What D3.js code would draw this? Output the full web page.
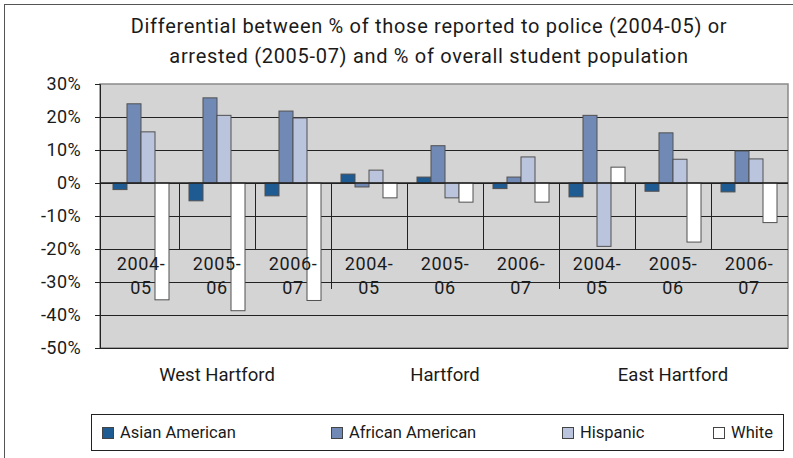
<!DOCTYPE html>
<html>
<head>
<meta charset="utf-8">
<script src="https://cdn.jsdelivr.net/npm/d3@7"></script>
<style>
  body { margin: 0; background: #fff; }
  text { font-family: Roboto, 'Noto Sans', sans-serif; fill: #1a1a1a; }
</style>
</head>
<body>
<div class="canvas"></div>
<script>
'use strict';

const cities = ['West Hartford', 'Hartford', 'East Hartford'];
const years = ['2004-05', '2005-06', '2006-07'];
const series = ['Asian American', 'African American', 'Hispanic', 'White'];

// one value per city/year, in city order
const asian = [-2, -5.4, -3.9, 2.7, 1.8, -1.7, -4.2, -2.5, -2.7];
const african = [24, 25.8, 21.8, -1.2, 11.3, 1.8, 20.5, 15.2, 9.7];
const hispanic = [15.5, 20.5, 19.7, 3.9, -4.5, 7.9, -19.2, 7.2, 7.3];
const white = [-35.4, -38.7, -35.6, -4.5, -5.8, -5.8, 4.8, -17.9, -12];

const yTicks = [-50, -40, -30, -20, -10, 0, 10, 20, 30];
const colors = ['#1f5b93', '#7089b5', '#bac4dc', '#ffffff'];

const values = [asian, african, hispanic, white];
const cats = [];
cities.forEach(c => years.forEach(y => cats.push({ city: c, year: y, key: c + '|' + y })));
const rows = cats.map((c, i) => ({ ...c, vals: series.map((s, j) => ({ s, v: values[j][i] })) }));

const width = 793;
const height = 458;

const svg = d3
  .select('.canvas')
  .append('svg')
  .attr('width', width)
  .attr('height', height);

// outer frame (right/bottom run off the picture)
svg.append('rect')
  .attr('x', 4.5).attr('y', 4.5)
  .attr('width', width + 10).attr('height', height + 10)
  .attr('fill', '#fff')
  .attr('stroke', '#555');

// title
const title = svg.append('text')
  .attr('text-anchor', 'middle')
  .style('font-size', '20px')
  .style('letter-spacing', '0.7px');
title.append('tspan').attr('x', 429).attr('y', 33)
  .text('Differential between % of those reported to police (2004-05) or');
title.append('tspan').attr('x', 429).attr('y', 63)
  .text('arrested (2005-07) and % of overall student population');

const plot = { left: 100, right: 788, top: 84, bottom: 348 };

const y = d3.scaleLinear().domain([-50, 30]).range([plot.bottom, plot.top]);
const x0 = d3.scaleBand().domain(cats.map(c => c.key)).range([103, 787]);
const x1 = d3.scaleBand().domain(series).range([0, x0.bandwidth()]).paddingOuter(0.714);
const color = d3.scaleOrdinal().domain(series).range(colors);

svg.append('rect')
  .attr('x', plot.left).attr('y', plot.top)
  .attr('width', plot.right - plot.left).attr('height', plot.bottom - plot.top)
  .attr('fill', '#d4d4d4')
  .attr('stroke', '#8a8a8a')
  .attr('stroke-width', 1.5);

// gridlines
svg.append('g')
  .selectAll('line')
  .data(yTicks.filter(t => t < 30))
  .join('line')
  .attr('x1', plot.left).attr('x2', plot.right)
  .attr('y1', d => Math.round(y(d)) + 0.5).attr('y2', d => Math.round(y(d)) + 0.5)
  .attr('stroke', '#222');

// value axis
const yAxis = d3.axisLeft(y).tickValues(yTicks).tickSize(5).tickPadding(14).tickFormat(d => d + '%');
const yAxisGroup = svg.append('g').attr('transform', `translate(${plot.left},0)`).call(yAxis);
yAxisGroup.select('.domain').attr('stroke', '#222');
yAxisGroup.selectAll('line').attr('stroke', '#222');
yAxisGroup.selectAll('text')
  .style('font-size', '18px')
  .style('font-family', 'Roboto, sans-serif')
  .style('letter-spacing', '0.4px')
  .attr('fill', '#1a1a1a');

// bars
const groups = svg.append('g')
  .selectAll('g')
  .data(rows)
  .join('g')
  .attr('transform', d => `translate(${x0(d.key)},0)`);

groups.selectAll('rect')
  .data(d => d.vals)
  .join('rect')
  .attr('x', d => x1(d.s))
  .attr('width', x1.bandwidth())
  .attr('y', d => y(Math.max(0, d.v)))
  .attr('height', d => Math.abs(y(d.v) - y(0)))
  .attr('fill', d => color(d.s))
  .attr('stroke', '#505050')
  .attr('stroke-width', 1);

// zero line
svg.append('line')
  .attr('x1', plot.left).attr('x2', plot.right)
  .attr('y1', y(0)).attr('y2', y(0))
  .attr('stroke', '#222')
  .attr('stroke-width', 1.5);

// category tick lines: short between years, long between cities
const bounds = cats.slice(1).map((c, i) => ({ x: x0(c.key), outer: c.city !== cats[i].city }));
svg.append('g')
  .selectAll('line')
  .data(bounds)
  .join('line')
  .attr('x1', d => Math.round(d.x) + 0.5).attr('x2', d => Math.round(d.x) + 0.5)
  .attr('y1', y(0))
  .attr('y2', d => y(0) + (d.outer ? 106 : 66))
  .attr('stroke', '#222');

// year labels, split onto two lines
const yearLabels = svg.append('g')
  .selectAll('text')
  .data(cats)
  .join('text')
  .attr('text-anchor', 'middle')
  .style('font-size', '18px')
  .style('letter-spacing', '0.6px');
yearLabels.append('tspan')
  .attr('x', d => x0(d.key) + x0.bandwidth() / 2)
  .attr('y', 270)
  .text(d => d.year.split('-')[0] + '-');
yearLabels.append('tspan')
  .attr('x', d => x0(d.key) + x0.bandwidth() / 2)
  .attr('y', 294)
  .text(d => d.year.split('-')[1]);

// city labels
svg.append('g')
  .selectAll('text')
  .data(cities)
  .join('text')
  .attr('text-anchor', 'middle')
  .attr('x', c => x0(c + '|' + years[1]) + x0.bandwidth() / 2)
  .attr('y', 381)
  .style('font-size', '18.5px')
  .text(c => c);

// legend
svg.append('rect')
  .attr('x', 91.5).attr('y', 414.5)
  .attr('width', 692).attr('height', 36)
  .attr('fill', '#fff')
  .attr('stroke', '#222');

const legendPos = { 'Asian American': 102, 'African American': 331, Hispanic: 562, White: 713 };
const items = svg.append('g')
  .selectAll('g')
  .data(series)
  .join('g')
  .attr('transform', s => `translate(${legendPos[s]},427)`);
items.append('rect')
  .attr('x', 0.5).attr('y', 0.5)
  .attr('width', 11).attr('height', 11)
  .attr('fill', s => color(s))
  .attr('stroke', '#444');
items.append('text')
  .attr('x', 18).attr('y', 10.5)
  .style('font-size', '16.5px')
  .text(s => s);
</script>
</body>
</html>
